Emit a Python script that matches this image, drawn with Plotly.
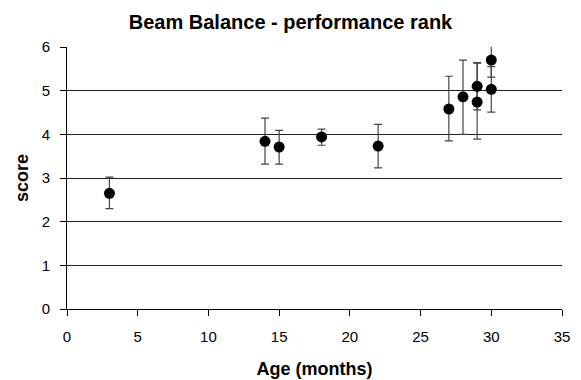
import plotly.graph_objects as go

age = [3, 14, 15, 18, 22, 27, 28, 29, 29, 30, 30]
score = [2.65, 3.84, 3.71, 3.94, 3.73, 4.58, 4.86, 5.10, 4.74, 5.70, 5.03]
err_plus = [0.37, 0.53, 0.38, 0.18, 0.50, 0.75, 0.84, 0.54, 0.89, 0.38, 0.52]
err_minus = [0.35, 0.52, 0.39, 0.19, 0.50, 0.73, 0.86, 0.54, 0.85, 0.39, 0.52]

x_ticks = [0, 5, 10, 15, 20, 25, 30, 35]
y_ticks = [0, 1, 2, 3, 4, 5, 6]

font = "Liberation Sans, Arial, sans-serif"

fig = go.Figure()
fig.add_trace(go.Scatter(
    x=age, y=score, mode="markers",
    marker=dict(color="black", size=11),
    error_y=dict(type="data", symmetric=False, array=err_plus, arrayminus=err_minus,
                 color="#444444", thickness=1.2, width=4),
    showlegend=False,
))

fig.update_layout(
    width=581, height=380,
    margin=dict(l=67, r=19, t=47, b=71),
    paper_bgcolor="white", plot_bgcolor="white",
    font=dict(family=font, size=15, color="black"),
    title=dict(text="<b>Beam Balance - performance rank</b>", x=0.5, xanchor="center",
               y=0.942, yanchor="middle", font=dict(size=20, family=font)),
    xaxis=dict(range=[0, 35], tickvals=x_ticks, showgrid=False, zeroline=False,
               showline=True, linecolor="black", linewidth=1, automargin=False,
               ticks="outside", ticklen=6, tickcolor="black", ticklabelstandoff=8,
               title=dict(text="<b>Age (months)</b>", standoff=18, font=dict(size=18))),
    yaxis=dict(range=[0, 6], tickvals=y_ticks, showgrid=True, gridcolor="#222222", gridwidth=1,
               zeroline=False, showline=True, linecolor="black", linewidth=1, automargin=False,
               ticks="outside", ticklen=6, tickcolor="black", ticklabelstandoff=7,
               title=dict(text="<b>score</b>", standoff=8, font=dict(size=18))),
)

fig.write_html("out.html")
